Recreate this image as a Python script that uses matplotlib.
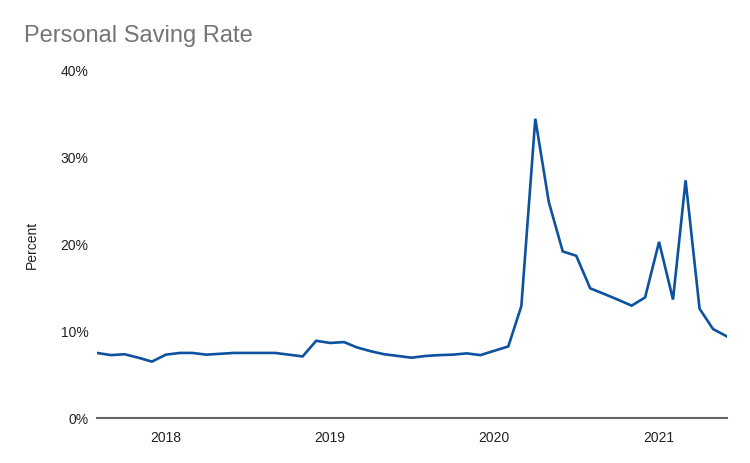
import matplotlib
matplotlib.use("Agg")
import matplotlib.pyplot as plt
import pandas as pd

# monthly personal saving rate, Aug 2017 .. Jun 2021 (percent)
start_month = "2017-08-01"
saving_rate = [
    7.5, 7.25, 7.35, 6.95, 6.5,                                    # 2017
    7.3, 7.5, 7.5, 7.3, 7.4, 7.5, 7.5, 7.5, 7.5, 7.3, 7.1, 8.9,    # 2018
    8.65, 8.75, 8.15, 7.7, 7.35, 7.15, 6.95, 7.15, 7.25, 7.3, 7.45, 7.25,  # 2019
    7.75, 8.25, 12.9, 34.5, 24.9, 19.2, 18.7, 14.95, 14.3, 13.65, 12.95, 13.9,  # 2020
    20.3, 13.65, 27.4, 12.6, 10.25, 9.4,                           # 2021
]
year_ticks = ["2018", "2019", "2020", "2021"]
y_ticks = [0, 10, 20, 30, 40]

months = pd.date_range(start_month, periods=len(saving_rate), freq="MS")

LINE = "#0d52a0"
TXT = "#222222"

plt.rcParams["font.family"] = ["Liberation Sans", "DejaVu Sans"]

fig = plt.figure(figsize=(7.5, 4.63), dpi=100, facecolor="white")
ax = fig.add_axes([97 / 750, 1 - 418 / 463, 630 / 750, (418 - 71) / 463])

ax.plot(months, saving_rate, color=LINE, lw=1.9, solid_joinstyle="miter")

ax.set_xlim(months[0], months[-1])
ax.set_ylim(0, 40)
ax.set_yticks(y_ticks)
ax.set_yticklabels([f"{v}%" for v in y_ticks])
ax.set_xticks([pd.Timestamp(f"{y}-01-01") for y in year_ticks])
ax.set_xticklabels(year_ticks)

for s in ("top", "right", "left"):
    ax.spines[s].set_visible(False)
ax.spines["bottom"].set_color("#666666")
ax.spines["bottom"].set_linewidth(1.5)
ax.tick_params(axis="both", length=0, labelsize=10, colors=TXT)
ax.tick_params(axis="y", pad=6)
ax.tick_params(axis="x", pad=9)

ax.set_ylabel("Percent", fontsize=10, color=TXT, labelpad=16)

fig.text(24 / 750, 1 - 36 / 463, "Personal Saving Rate", fontsize=17,
         color="#757575", va="center", ha="left")

fig.savefig("out.png", dpi=100, facecolor="white")
